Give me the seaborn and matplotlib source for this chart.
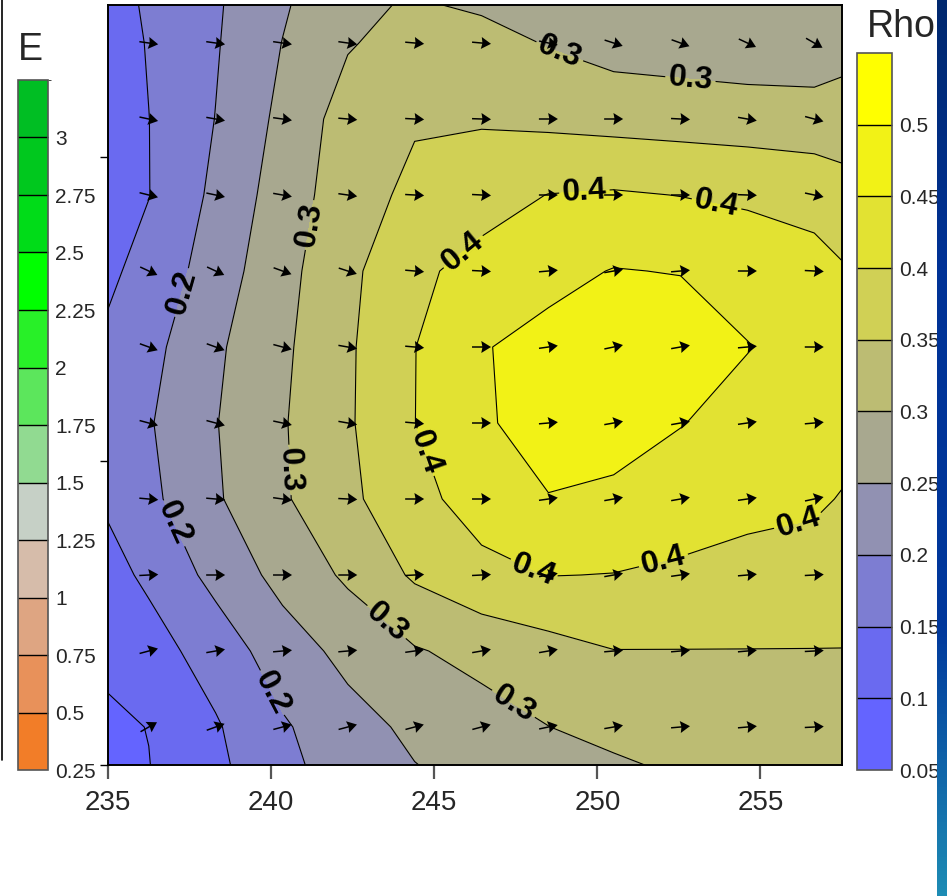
import numpy as np
import seaborn as sns
import matplotlib
matplotlib.use('Agg')
import matplotlib.pyplot as plt
from matplotlib import font_manager
from matplotlib.colors import ListedColormap, BoundaryNorm, LinearSegmentedColormap
from matplotlib.cm import ScalarMappable
from matplotlib.lines import Line2D

# --- data ------------------------------------------------------------------
# grid nodes of the Rho field (x axis in plot units, y axis unlabeled)
grid_x = [235.0, 236.25, 238.3, 240.35, 242.35, 244.4, 246.45, 248.5, 250.5, 252.55, 254.6, 256.65, 257.5]
grid_y = [2.5, 2.375, 2.125, 1.875, 1.625, 1.375, 1.125, 0.875, 0.625, 0.375, 0.125, 0.0]

# Rho values, rows from top to bottom
rho = [
    [0.132, 0.156, 0.194, 0.244, 0.290, 0.305, 0.293, 0.273, 0.262, 0.258, 0.255, 0.255, 0.262],
    [0.126, 0.153, 0.196, 0.251, 0.296, 0.320, 0.318, 0.297, 0.280, 0.275, 0.270, 0.268, 0.280],
    [0.128, 0.1495, 0.201, 0.2625, 0.322, 0.345, 0.345, 0.339, 0.333, 0.329, 0.325, 0.323, 0.325],
    [0.135, 0.149, 0.211, 0.274, 0.327, 0.362, 0.382, 0.401, 0.405, 0.399, 0.393, 0.382, 0.368],
    [0.142, 0.165, 0.225, 0.284, 0.338, 0.391, 0.415, 0.436, 0.452, 0.448, 0.428, 0.418, 0.405],
    [0.158, 0.185, 0.242, 0.291, 0.343, 0.399, 0.447, 0.465, 0.485, 0.480, 0.452, 0.430, 0.425],
    [0.165, 0.196, 0.248, 0.296, 0.344, 0.3995, 0.443, 0.472, 0.480, 0.452, 0.430, 0.425, 0.420],
    [0.157, 0.188, 0.244, 0.294, 0.339, 0.386, 0.420, 0.448, 0.436, 0.422, 0.413, 0.408, 0.397],
    [0.134, 0.159, 0.215, 0.266, 0.308, 0.357, 0.387, 0.401, 0.399, 0.393, 0.385, 0.378, 0.374],
    [0.110, 0.130, 0.172, 0.226, 0.264, 0.296, 0.315, 0.332, 0.349, 0.349, 0.349, 0.349, 0.349],
    [0.092, 0.101, 0.145, 0.194, 0.232, 0.260, 0.280, 0.2995, 0.315, 0.328, 0.336, 0.340, 0.343],
    [0.085, 0.099, 0.140, 0.185, 0.228, 0.249, 0.265, 0.280, 0.293, 0.308, 0.322, 0.332, 0.336],
]

# arrows sit on the inner grid nodes; direction in degrees (0 = east, + = up)
arrow_x = grid_x[1:-1]
arrow_y = grid_y[1:-1]
wind_dir = [
    [-8, -8, -8, -8, -5, -5, -12, -18, -20, -25, -30],
    [-12, -10, -8, -5, -3, -2, 0, 0, -3, -10, -15],
    [-14, -12, -10, -8, -3, -3, 0, 0, 0, -2, -12],
    [-25, -25, -20, -18, -5, -3, 5, 10, 5, 0, -3],
    [-20, -20, -15, -10, -5, 0, 8, 12, 10, 5, 0],
    [-15, -15, -12, -10, -5, 0, 5, 10, 10, 8, 5],
    [-5, -5, -8, -3, 0, 0, 8, 10, 10, 8, 12],
    [3, 0, 0, 0, 3, 3, 10, 10, 8, 5, 3],
    [15, 10, 5, 5, 8, 10, 10, 5, 5, 5, 3],
    [30, 20, 15, 15, 15, 15, 12, 10, 5, 5, 3],
]

rho_levels = [0.05, 0.1, 0.15, 0.2, 0.25, 0.3, 0.35, 0.4, 0.45, 0.5, 0.55]
rho_colors = ['#6464ff', '#6a6af0', '#7d7dd2', '#9191b2', '#a8a88f', '#bcbc73',
              '#d0d055', '#e2e232', '#f2f216', '#ffff00']
label_levels = [0.2, 0.3, 0.4]
plain_levels = [0.1, 0.15, 0.25, 0.35, 0.45, 0.5]

e_levels = [0.25, 0.5, 0.75, 1.0, 1.25, 1.5, 1.75, 2.0, 2.25, 2.5, 2.75, 3.0, 3.25]
e_colors = ['#f27d28', '#e8915a', '#dea582', '#d6bcaa', '#c6d0c6', '#91da91',
            '#5ce65c', '#28f028', '#00ff00', '#00dc18', '#00c81e', '#00be23']

x_ticks = [235, 240, 245, 250, 255]
y_ticks = [0, 1, 2]

# where the contour labels sit (plot units)
label_pos = [
    (237.30, 1.553), (237.05, 0.796), (240.02, 0.237),
    (241.19, 1.776), (240.42, 0.970), (243.33, 0.444), (247.31, 0.181),
    (248.75, 2.319), (252.83, 2.230),
    (245.47, 1.743), (249.61, 1.875), (253.68, 1.859), (244.49, 1.020),
    (247.93, 0.615), (252.06, 0.658), (256.19, 0.789),
]


def pick_font(name, fallback):
    try:
        font_manager.findfont(font_manager.FontProperties(family=name), fallback_to_default=False)
        return name
    except ValueError:
        return fallback


sns.set_style('white')
plt.rcParams['font.family'] = ['Liberation Sans', 'DejaVu Sans']
narrow = pick_font('Liberation Sans Narrow', 'Liberation Sans')
tick_size = 22 if narrow != 'Liberation Sans' else 20

W, H = 947, 896
fig = plt.figure(figsize=(W / 100, H / 100), dpi=100)


def box(l, t, r, b):
    return [l / W, 1 - b / H, (r - l) / W, (b - t) / H]


ax = fig.add_axes(box(108, 5, 842, 765))
cax_e = fig.add_axes(box(18, 80, 48, 770))
cax_r = fig.add_axes(box(857, 53, 892, 770))

# --- main field --------------------------------------------------------------
X, Y = np.meshgrid(grid_x, grid_y[::-1])
Z = np.array(rho)[::-1]
cf = ax.contourf(X, Y, Z, levels=rho_levels, colors=rho_colors)
ax.contour(X, Y, Z, levels=plain_levels, colors='black', linewidths=0.8)
cs = ax.contour(X, Y, Z, levels=label_levels, colors='black', linewidths=0.8)

with plt.rc_context({'font.family': [narrow], 'font.weight': 'bold'}):
    ax.clabel(cs, manual=label_pos, fmt='%.1f',
              inline=True, inline_spacing=3, fontsize=23)

AX, AY = np.meshgrid(arrow_x, arrow_y)
ang = np.deg2rad(np.array(wind_dir, dtype=float))
ax.quiver(AX, AY, np.cos(ang), np.sin(ang), angles='uv', pivot='middle',
          units='dots', scale_units='dots', scale=1 / 19,
          width=1.5, headwidth=8, headlength=6.5, headaxislength=5.8,
          color='black', zorder=3)

ax.set_xlim(235, 257.5)
ax.set_ylim(0, 2.5)
ax.set_xticks(x_ticks)
ax.set_xticklabels([str(v) for v in x_ticks], fontfamily=narrow, fontsize=tick_size)
ax.set_yticks(y_ticks)
ax.set_yticklabels([])
ax.tick_params(axis='x', bottom=True, length=10, width=1.6, color='#555555', pad=8, direction='out')
ax.tick_params(axis='y', left=True, length=6, width=1.0, color='black', direction='out')
for s in ax.spines.values():
    s.set_linewidth(1.4)
    s.set_color('black')

# --- colour bars -------------------------------------------------------------
cb_r = fig.colorbar(cf, cax=cax_r, ticks=rho_levels[:-1], drawedges=True)
cb_r.set_ticklabels([f'{v:g}' for v in rho_levels[:-1]])

e_map = ScalarMappable(norm=BoundaryNorm(e_levels, len(e_colors)), cmap=ListedColormap(e_colors))
cb_e = fig.colorbar(e_map, cax=cax_e, ticks=e_levels[:-1], drawedges=True)
cb_e.set_ticklabels([f'{v:g}' for v in e_levels[:-1]])

for cb in (cb_r, cb_e):
    cb.outline.set_edgecolor('#555555')
    cb.outline.set_linewidth(1.2)
    cb.dividers.set_color('black')
    cb.dividers.set_linewidth(1.0)
    cb.ax.tick_params(length=0, pad=5, labelsize=15)

fig.text(18 / W, 1 - 60 / H, 'E', fontsize=27, ha='left', va='baseline')
fig.text(867 / W, 1 - 37 / H, 'Rho', fontsize=27, ha='left', va='baseline')

# slide decorations: thin frame line on the left, blue band on the right
fig.add_artist(Line2D([1.5 / W, 1.5 / W], [1, 1 - 760 / H], color='black', lw=1.2))
band = fig.add_axes(box(937, 0, 947, 896))
band_cmap = LinearSegmentedColormap.from_list(
    'band', [(0, '#00286e'), (0.3, '#003296'), (0.7, '#00389c'), (1, '#1e8cb4')])
band.imshow(np.linspace(0, 1, 256).reshape(-1, 1), aspect='auto', cmap=band_cmap)
band.axis('off')

fig.savefig('out.png', dpi=100)
